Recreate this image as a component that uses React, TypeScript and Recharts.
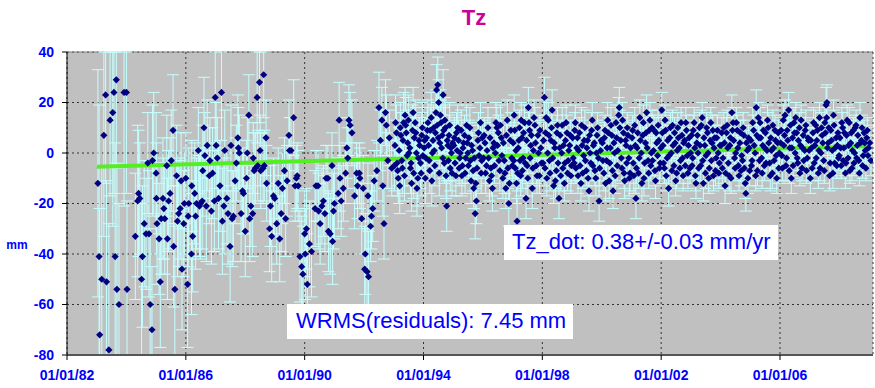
import React from 'react';
import { CartesianGrid, ComposedChart, ErrorBar, Line, ReferenceLine, Scatter, XAxis, YAxis } from 'recharts';

// [epoch (decimal year), Tz (mm), sigma (mm)]
type Obs = [number, number, number];

const obs1983: Obs[] = [[1983.04,-12,45],[1983.08,-41,60],[1983.10,-72,50],[1983.17,-50,45],[1983.24,7,40],[1983.30,23,35],[1983.33,-51,40],[1983.41,-78,50],[1983.45,13,30],[1983.54,16,45],[1983.58,24,40],[1983.62,-41,45],[1983.66,29,35],[1983.68,-54,50],[1983.75,-60,40],[1983.92,24,45]];
const obs1984: Obs[] = [[1984.00,24,40],[1984.02,-54,35],[1984.30,-33,25],[1984.38,-19,30],[1984.41,-16,25],[1984.45,-18,22],[1984.51,-50,30],[1984.54,-41,28],[1984.60,-28,25],[1984.66,-32,22],[1984.72,-4,20],[1984.76,-32,25],[1984.80,-60,30],[1984.86,-70,25],[1984.88,-3,22],[1984.92,0,24]];
const obs1985: Obs[] = [[1985.00,-8,24],[1985.01,-18,22],[1985.03,-28,24],[1985.10,-34,22],[1985.14,-51,26],[1985.17,-26,22],[1985.23,-18,24],[1985.26,-22,20],[1985.29,-26,22],[1985.36,-5,20],[1985.38,-34,24],[1985.42,-19,20],[1985.47,-16,22],[1985.51,-3,20],[1985.57,9,22],[1985.59,-37,24],[1985.63,-54,26],[1985.69,-9,20],[1985.72,-27,22],[1985.76,-24,21],[1985.81,-22,20],[1985.84,-11,19],[1985.87,-46,24],[1985.93,-28,21],[1985.95,-20,20]];
const obs1986: Obs[] = [[1986.00,-10,18],[1986.06,-52,25],[1986.08,-25,20],[1986.10,-20,22],[1986.19,-40,24],[1986.20,-13,18],[1986.23,-33,22],[1986.30,-16,20],[1986.33,-25,21],[1986.36,-20,18],[1986.42,1,17],[1986.46,-21,20],[1986.49,-20,22],[1986.55,-19,19],[1986.57,-7,18],[1986.61,10,20],[1986.64,-1,17],[1986.69,-21,22],[1986.72,3,18],[1986.79,-9,19],[1986.81,-3,17],[1986.86,-23,21],[1986.90,-8,18],[1986.96,-19,20],[1986.99,22,18]];
const obs1987: Obs[] = [[1987.02,3,17],[1987.06,-2,16],[1987.10,-18,20],[1987.15,-13,18],[1987.20,24,19],[1987.23,-27,21],[1987.28,-21,19],[1987.31,1,16],[1987.38,-18,18],[1987.42,-24,20],[1987.49,-37,22],[1987.52,3,16],[1987.56,-26,19],[1987.60,-25,18],[1987.66,-11,17],[1987.70,-4,15],[1987.75,6,17],[1987.77,2,16],[1987.80,0,15],[1987.86,-24,19],[1987.91,-15,17],[1987.94,-16,16]];
const obs1988: Obs[] = [[1988.00,-31,18],[1988.04,-10,15],[1988.07,0,14],[1988.12,15,16],[1988.15,-26,17],[1988.19,-21,16],[1988.25,-24,17],[1988.27,-2,14],[1988.30,-7,15],[1988.34,-6,14],[1988.40,22,18],[1988.42,-5,14],[1988.48,28,16],[1988.50,1,14],[1988.52,-7,15],[1988.60,-6,14],[1988.62,31,17],[1988.64,-5,14],[1988.70,6,15],[1988.72,-12,15],[1988.82,-30,17],[1988.85,-21,16],[1988.89,-33,18],[1988.95,-17,15],[1988.99,-18,15]];
const obs1989: Obs[] = [[1989.06,-28,16],[1989.11,-12,14],[1989.16,-34,17],[1989.21,-24,15],[1989.25,-14,14],[1989.32,-7,13],[1989.36,-26,15],[1989.41,-11,14],[1989.47,7,14],[1989.49,1,13],[1989.54,1,13],[1989.63,14,15],[1989.68,-13,14],[1989.72,-10,13],[1989.75,-9,13],[1989.78,-13,14],[1989.84,-41,18],[1989.90,-45,20],[1989.94,-48,19]];
const obs1990: Obs[] = [[1990.00,-32,17],[1990.02,-40,18],[1990.06,-30,16],[1990.09,-52,20],[1990.16,-36,17],[1990.23,-39,18],[1990.35,-22,15],[1990.38,-13,14],[1990.45,-13,14],[1990.47,-23,15],[1990.52,-28,16],[1990.58,-21,15],[1990.63,-19,14],[1990.68,-24,15],[1990.72,-10,13],[1990.78,-10,13],[1990.80,-31,16],[1990.86,-32,16],[1990.92,-5,13],[1990.94,-35,17],[1990.97,-23,15]];
const obs1991: Obs[] = [[1991.00,-20,14],[1991.13,-16,14],[1991.16,13,15],[1991.19,-10,13],[1991.23,-19,14],[1991.30,-14,13],[1991.38,-8,12],[1991.42,2,12],[1991.45,-2,12],[1991.49,13,14],[1991.53,11,13],[1991.59,8,13],[1991.68,-17,13],[1991.75,-8,12],[1991.78,-13,13],[1991.84,-8,12],[1991.86,-10,12],[1991.92,-26,14],[1991.97,-14,13]];
const obs1992: Obs[] = [[1992.02,-46,17],[1992.04,-40,16],[1992.10,-47,17],[1992.13,-17,13],[1992.15,-49,18],[1992.22,-29,14],[1992.25,-25,13],[1992.29,-22,13],[1992.34,-11,12],[1992.43,-7,12],[1992.50,18,14],[1992.55,5,12],[1992.60,13,13],[1992.63,-13,12],[1992.67,-28,14],[1992.72,16,13],[1992.75,11,12],[1992.80,-3,11],[1992.85,6,11],[1992.93,-6,11]];
const obs1993: Obs[] = [[1993.02,-5,10],[1993.06,12,11],[1993.11,-4,9],[1993.15,-10,10],[1993.20,-13,11],[1993.24,7,9],[1993.29,-6,10],[1993.33,12,12],[1993.38,15,11],[1993.42,8,9],[1993.47,4,10],[1993.51,0,9],[1993.56,-6,10],[1993.60,-12,11],[1993.65,16,10],[1993.69,6,9],[1993.74,8,10],[1993.78,-14,11],[1993.83,-2,9],[1993.87,3,10],[1993.92,-8,9],[1993.96,10,10],
  [1993.04,3,10],[1993.09,8,11],[1993.13,-7,10],[1993.18,1,9],[1993.22,10,10],[1993.27,-3,10],[1993.31,5,11],[1993.36,-9,10],[1993.40,11,11],[1993.45,-1,9],[1993.49,13,10],[1993.54,2,10],[1993.58,-4,9],[1993.63,9,10],[1993.67,-8,10],[1993.72,12,9],[1993.76,0,10],[1993.81,-10,11],[1993.85,5,9],[1993.90,-4,10],[1993.94,7,9],[1993.98,-1,10]];
const obs1994: Obs[] = [[1994.02,2,9],[1994.06,-10,10],[1994.10,6,8],[1994.15,12,9],[1994.19,-3,8],[1994.23,9,9],[1994.28,-11,10],[1994.32,5,8],[1994.36,1,8],[1994.40,8,9],[1994.44,25,10],[1994.48,27,11],[1994.51,20,9],[1994.55,4,8],[1994.59,12,9],[1994.63,7,8],[1994.66,23,10],[1994.70,-4,8],[1994.74,10,9],[1994.78,-21,10],[1994.82,3,8],[1994.86,7,8],[1994.90,-6,9],[1994.94,0,8],[1994.98,4,8],
  [1994.04,5,9],[1994.08,-2,8],[1994.13,9,9],[1994.17,3,8],[1994.21,-7,9],[1994.26,14,10],[1994.30,0,8],[1994.34,10,9],[1994.38,-5,8],[1994.42,16,9],[1994.46,11,9],[1994.50,6,8],[1994.53,-8,9],[1994.57,15,10],[1994.61,2,8],[1994.65,-2,8],[1994.68,9,9],[1994.72,13,9],[1994.76,-9,9],[1994.80,5,8],[1994.84,-3,8],[1994.88,11,9],[1994.92,2,8],[1994.96,-8,9]];
const obs1995: Obs[] = [[1995.02,3,8],[1995.06,-4,7],[1995.11,8,8],[1995.15,10,9],[1995.20,-6,7],[1995.24,0,8],[1995.29,-9,8],[1995.33,2,7],[1995.38,7,8],[1995.42,-2,7],[1995.47,4,8],[1995.51,-5,7],[1995.56,10,8],[1995.60,-11,9],[1995.65,1,7],[1995.69,-14,8],[1995.74,-24,10],[1995.78,-19,9],[1995.83,5,7],[1995.87,-1,8],[1995.92,12,8],[1995.96,-3,7],
  [1995.04,6,8],[1995.09,-9,8],[1995.13,1,7],[1995.18,5,8],[1995.22,-2,7],[1995.27,9,8],[1995.31,-5,7],[1995.35,4,7],[1995.40,-8,8],[1995.45,11,8],[1995.49,0,7],[1995.53,6,7],[1995.58,-3,7],[1995.62,3,8],[1995.67,-7,8],[1995.71,-2,7],[1995.76,-12,8],[1995.80,-6,7],[1995.85,8,8],[1995.90,2,7],[1995.94,-8,8],[1995.98,6,7]];
const obs1996: Obs[] = [[1996.02,-2,7],[1996.07,4,8],[1996.12,-5,7],[1996.17,10,8],[1996.22,-11,8],[1996.27,-6,7],[1996.32,-14,9],[1996.37,4,7],[1996.42,0,7],[1996.47,10,8],[1996.52,8,7],[1996.57,-7,8],[1996.62,6,7],[1996.67,-10,8],[1996.72,-3,7],[1996.77,-14,8],[1996.82,13,8],[1996.87,-20,9],[1996.92,5,7],[1996.97,-2,7],
  [1996.04,7,7],[1996.09,-8,8],[1996.14,1,7],[1996.19,-2,7],[1996.24,6,8],[1996.29,-9,8],[1996.34,2,7],[1996.39,-5,7],[1996.44,12,8],[1996.49,3,7],[1996.54,-3,7],[1996.59,11,8],[1996.64,-1,7],[1996.69,4,7],[1996.74,-8,8],[1996.79,7,7],[1996.84,-6,8],[1996.89,-12,8],[1996.94,9,7],[1996.99,-5,7]];
const obs1997: Obs[] = [[1997.02,4,7],[1997.05,15,8],[1997.09,-6,7],[1997.13,-12,8],[1997.15,-27,9],[1997.19,2,7],[1997.23,10,7],[1997.27,-9,8],[1997.31,6,7],[1997.35,-2,6],[1997.40,12,7],[1997.45,-18,8],[1997.49,-5,7],[1997.53,18,8],[1997.57,9,7],[1997.61,3,6],[1997.66,-14,8],[1997.70,1,6],[1997.75,11,7],[1997.80,-5,7],[1997.85,7,6],[1997.90,-9,7],[1997.95,2,6],
  [1997.04,-3,7],[1997.07,9,7],[1997.11,1,7],[1997.17,-8,7],[1997.21,5,7],[1997.25,-3,7],[1997.29,13,7],[1997.33,-7,7],[1997.37,8,6],[1997.42,-4,7],[1997.47,5,7],[1997.51,-10,7],[1997.55,12,7],[1997.59,-2,6],[1997.63,7,6],[1997.68,-6,7],[1997.72,14,7],[1997.77,4,6],[1997.82,-9,7],[1997.87,0,6],[1997.92,9,6],[1997.97,-4,6]];
const obs1998: Obs[] = [[1998.02,-4,7],[1998.07,22,8],[1998.11,8,7],[1998.15,-10,7],[1998.20,13,7],[1998.24,-3,6],[1998.29,5,7],[1998.33,17,8],[1998.38,-13,7],[1998.42,2,6],[1998.47,-7,7],[1998.51,11,7],[1998.56,-18,8],[1998.60,7,6],[1998.65,0,6],[1998.69,-6,7],[1998.74,-12,7],[1998.78,5,6],[1998.83,8,7],[1998.87,-3,6],[1998.92,3,6],[1998.96,-9,7],
  [1998.04,5,7],[1998.09,-6,7],[1998.13,14,7],[1998.18,0,7],[1998.22,7,6],[1998.26,-8,7],[1998.31,10,7],[1998.35,-2,7],[1998.40,4,6],[1998.44,-11,7],[1998.49,8,7],[1998.53,-4,7],[1998.58,2,7],[1998.62,-9,6],[1998.67,11,7],[1998.71,3,6],[1998.76,-4,6],[1998.80,12,7],[1998.85,-8,7],[1998.89,1,6],[1998.94,7,6],[1998.98,-5,7]];
const obs1999: Obs[] = [[1999.02,6,6],[1999.07,-4,7],[1999.11,12,7],[1999.16,2,6],[1999.20,-9,7],[1999.25,8,6],[1999.30,-12,7],[1999.34,3,6],[1999.39,-1,6],[1999.43,10,7],[1999.48,-7,6],[1999.52,5,6],[1999.57,-15,8],[1999.61,0,6],[1999.66,9,7],[1999.70,-5,6],[1999.75,4,6],[1999.80,-10,7],[1999.84,7,6],[1999.89,-2,6],[1999.91,-19,8],[1999.96,1,6],
  [1999.04,-2,6],[1999.09,9,7],[1999.13,-6,6],[1999.18,6,7],[1999.22,1,6],[1999.27,-5,6],[1999.32,11,7],[1999.36,-8,6],[1999.41,5,6],[1999.45,-3,6],[1999.50,2,6],[1999.54,-10,7],[1999.59,7,6],[1999.63,-4,6],[1999.68,13,7],[1999.72,3,6],[1999.77,-7,6],[1999.82,0,6],[1999.86,10,6],[1999.93,-6,7],[1999.98,5,6]];
const obs2000: Obs[] = [[2000.02,4,6],[2000.07,-8,7],[2000.11,9,6],[2000.16,-3,6],[2000.20,13,7],[2000.25,-11,7],[2000.29,2,6],[2000.34,7,6],[2000.38,-15,7],[2000.43,0,6],[2000.48,12,7],[2000.52,-5,6],[2000.57,15,7],[2000.59,18,8],[2000.64,5,6],[2000.68,-6,6],[2000.73,8,6],[2000.77,-11,7],[2000.82,3,6],[2000.86,10,6],[2000.91,-2,6],[2000.95,-8,7],
  [2000.04,-3,6],[2000.09,6,6],[2000.13,-12,7],[2000.18,2,6],[2000.22,8,6],[2000.27,-4,6],[2000.31,11,7],[2000.36,-7,6],[2000.41,4,6],[2000.45,-9,7],[2000.50,6,6],[2000.54,1,6],[2000.61,10,7],[2000.66,-2,6],[2000.70,13,7],[2000.75,-8,6],[2000.80,5,6],[2000.84,-4,6],[2000.88,7,6],[2000.93,-10,7],[2000.97,2,6]];
const obs2001: Obs[] = [[2001.02,6,6],[2001.06,-4,6],[2001.11,11,7],[2001.15,-18,8],[2001.19,2,6],[2001.24,-8,6],[2001.28,14,7],[2001.33,0,6],[2001.38,7,6],[2001.42,-10,7],[2001.47,4,6],[2001.51,16,7],[2001.56,-3,6],[2001.60,9,6],[2001.65,-5,6],[2001.69,10,7],[2001.74,1,6],[2001.79,-7,6],[2001.83,8,6],[2001.88,-1,6],[2001.92,5,6],[2001.97,-4,6],
  [2001.04,9,6],[2001.08,-9,7],[2001.13,3,6],[2001.17,-6,6],[2001.21,8,6],[2001.26,-2,6],[2001.30,5,6],[2001.35,-12,7],[2001.40,12,7],[2001.44,-4,6],[2001.49,8,6],[2001.53,2,6],[2001.58,-8,6],[2001.62,13,7],[2001.67,0,6],[2001.71,-3,6],[2001.76,9,6],[2001.81,-11,7],[2001.85,4,6],[2001.90,11,6],[2001.94,-6,6],[2001.99,2,6]];
const obs2002: Obs[] = [[2002.02,17,7],[2002.06,3,6],[2002.11,-6,6],[2002.15,9,6],[2002.20,-2,6],[2002.25,-14,7],[2002.29,6,6],[2002.34,0,5],[2002.38,11,6],[2002.43,-5,6],[2002.47,4,5],[2002.52,-8,6],[2002.56,10,6],[2002.61,2,5],[2002.65,-3,6],[2002.70,7,6],[2002.74,-9,6],[2002.79,5,5],[2002.83,12,6],[2002.88,-1,5],[2002.92,3,6],[2002.97,-6,6],
  [2002.04,8,6],[2002.08,-4,6],[2002.13,13,6],[2002.17,-9,6],[2002.22,5,6],[2002.27,-1,6],[2002.31,10,6],[2002.36,-7,6],[2002.40,3,5],[2002.45,8,6],[2002.49,-11,6],[2002.54,1,5],[2002.58,6,6],[2002.63,-6,6],[2002.67,12,6],[2002.72,-2,5],[2002.76,4,6],[2002.81,-5,5],[2002.85,9,6],[2002.90,-8,6],[2002.94,6,5],[2002.99,0,5]];
const obs2003: Obs[] = [[2003.02,7,6],[2003.06,-2,5],[2003.11,12,6],[2003.15,-9,6],[2003.20,4,5],[2003.24,0,5],[2003.29,10,6],[2003.33,-5,6],[2003.38,14,6],[2003.42,-12,7],[2003.47,3,5],[2003.51,-1,5],[2003.56,8,6],[2003.60,-10,6],[2003.65,5,5],[2003.69,-3,5],[2003.74,9,6],[2003.78,2,5],[2003.83,-7,6],[2003.87,6,5],[2003.92,0,5],[2003.96,-4,6],
  [2003.04,-5,5],[2003.08,9,6],[2003.13,2,5],[2003.17,-12,6],[2003.22,7,5],[2003.26,-6,5],[2003.31,3,5],[2003.35,11,6],[2003.40,-3,5],[2003.44,6,5],[2003.49,-8,6],[2003.53,10,6],[2003.58,0,5],[2003.62,-6,5],[2003.67,12,6],[2003.71,4,5],[2003.76,-9,6],[2003.80,6,5],[2003.85,-2,5],[2003.89,9,6],[2003.94,-8,6],[2003.98,3,5]];
const obs2004: Obs[] = [[2004.02,3,5],[2004.06,-6,6],[2004.11,10,6],[2004.15,-13,7],[2004.20,8,6],[2004.24,2,5],[2004.29,-9,6],[2004.33,6,5],[2004.38,16,7],[2004.42,12,6],[2004.47,-2,5],[2004.51,0,5],[2004.56,9,6],[2004.60,-5,5],[2004.65,4,5],[2004.69,-7,6],[2004.74,-3,5],[2004.78,7,6],[2004.83,-12,6],[2004.85,-16,7],[2004.90,1,5],[2004.94,6,5],[2004.98,-7,6],
  [2004.04,8,6],[2004.08,-2,5],[2004.13,4,5],[2004.17,-8,6],[2004.22,11,6],[2004.26,-4,5],[2004.31,3,5],[2004.35,-10,6],[2004.40,9,6],[2004.44,5,5],[2004.49,-6,5],[2004.53,12,6],[2004.58,2,5],[2004.62,-9,6],[2004.67,8,5],[2004.71,-1,5],[2004.76,10,6],[2004.80,-6,5],[2004.87,4,5],[2004.92,-10,6],[2004.96,2,5]];
const obs2005: Obs[] = [[2005.02,5,5],[2005.06,-3,5],[2005.11,9,6],[2005.16,0,5],[2005.20,18,7],[2005.24,-7,6],[2005.29,6,5],[2005.33,12,6],[2005.38,-2,5],[2005.42,3,5],[2005.47,-5,6],[2005.51,8,5],[2005.56,1,5],[2005.60,10,6],[2005.65,-4,5],[2005.69,6,5],[2005.74,-8,6],[2005.78,2,5],[2005.83,9,6],[2005.87,-1,5],[2005.92,4,5],[2005.96,-6,6],
  [2005.04,-5,5],[2005.08,12,6],[2005.13,3,5],[2005.18,-9,6],[2005.22,7,5],[2005.27,14,6],[2005.31,-3,5],[2005.35,6,5],[2005.40,-8,6],[2005.44,9,5],[2005.49,2,5],[2005.53,-4,5],[2005.58,13,6],[2005.62,4,5],[2005.67,-9,6],[2005.71,1,5],[2005.76,11,6],[2005.80,-3,5],[2005.85,5,5],[2005.89,-10,6],[2005.94,8,5],[2005.98,0,5]];
const obs2006: Obs[] = [[2006.02,4,5],[2006.06,-1,5],[2006.11,13,6],[2006.15,7,5],[2006.20,-5,6],[2006.24,9,5],[2006.29,17,7],[2006.33,2,5],[2006.38,-10,6],[2006.42,6,5],[2006.47,12,6],[2006.51,0,5],[2006.56,8,5],[2006.60,-4,5],[2006.65,10,6],[2006.69,3,5],[2006.74,-6,5],[2006.78,7,5],[2006.83,1,5],[2006.87,11,6],[2006.92,-2,5],[2006.96,5,5],
  [2006.04,9,5],[2006.08,-6,5],[2006.13,3,5],[2006.17,15,6],[2006.22,-2,5],[2006.26,5,5],[2006.31,-7,5],[2006.35,11,6],[2006.40,2,5],[2006.44,-5,5],[2006.49,8,5],[2006.53,14,6],[2006.58,-2,5],[2006.62,5,5],[2006.67,-8,5],[2006.71,13,6],[2006.76,2,5],[2006.80,-3,5],[2006.85,9,5],[2006.89,-7,5],[2006.94,6,5],[2006.98,1,5]];
const obs2007: Obs[] = [[2007.02,-10,6],[2007.06,2,5],[2007.11,8,5],[2007.15,-4,5],[2007.20,11,6],[2007.24,5,5],[2007.29,-8,6],[2007.33,14,6],[2007.38,0,5],[2007.42,7,5],[2007.47,-3,5],[2007.51,12,6],[2007.55,19,7],[2007.58,20,7],[2007.62,4,5],[2007.67,-9,6],[2007.71,9,5],[2007.76,1,5],[2007.80,15,6],[2007.84,-4,5],[2007.89,6,5],[2007.93,3,5],[2007.97,-2,5],
  [2007.04,5,5],[2007.08,-6,5],[2007.13,12,6],[2007.17,3,5],[2007.22,-2,5],[2007.26,9,5],[2007.31,1,5],[2007.35,-6,5],[2007.40,10,6],[2007.44,4,5],[2007.49,-7,5],[2007.53,8,5],[2007.57,14,6],[2007.60,2,5],[2007.64,10,5],[2007.69,-4,5],[2007.73,5,5],[2007.78,-8,6],[2007.82,11,6],[2007.86,2,5],[2007.91,-5,5],[2007.95,8,5],[2007.99,-1,5]];
const obs2008: Obs[] = [[2008.02,6,5],[2008.06,-5,5],[2008.11,10,6],[2008.15,2,5],[2008.20,-8,6],[2008.24,7,5],[2008.29,-2,5],[2008.33,12,6],[2008.38,4,5],[2008.42,-6,5],[2008.47,9,5],[2008.51,0,5],[2008.56,11,6],[2008.60,3,5],[2008.65,-3,5],[2008.69,14,6],[2008.74,5,5],[2008.78,-5,5],[2008.83,8,5],[2008.87,1,5],[2008.92,6,5],[2008.96,-1,5],[2009.02,4,6],[2009.06,-3,6],
  [2008.04,2,5],[2008.08,12,6],[2008.13,-3,5],[2008.17,8,5],[2008.22,-4,5],[2008.26,13,6],[2008.31,3,5],[2008.35,-7,5],[2008.40,8,5],[2008.44,1,5],[2008.49,-4,5],[2008.53,10,5],[2008.58,-2,5],[2008.62,7,5],[2008.67,-8,5],[2008.71,4,5],[2008.76,10,5],[2008.80,-1,5],[2008.85,4,5],[2008.89,-6,5],[2008.94,9,5],[2008.98,2,5]];

// linear fit end points (Tz_dot = 0.38 mm/yr)
const trendEpochs = [1983.0, 2008.95];
const trendValues = [-5.4, 2.7];

const xTicks = [1982, 1986, 1990, 1994, 1998, 2002, 2006];
const yTicks = [-80, -60, -40, -20, 0, 20, 40];
const Y_MIN = -80;
const Y_MAX = 40;

const title = 'Tz';
const rateLabel = 'Tz_dot: 0.38+/-0.03 mm/yr';
const wrmsLabel = 'WRMS(residuals): 7.45 mm';

const allObs = [
  obs1983, obs1984, obs1985, obs1986, obs1987, obs1988, obs1989, obs1990, obs1991, obs1992, obs1993,
  obs1994, obs1995, obs1996, obs1997, obs1998, obs1999, obs2000, obs2001, obs2002, obs2003, obs2004,
  obs2005, obs2006, obs2007, obs2008,
].flat();

// error bars are cut at the plot frame, like the original
const points = allObs.map(([t, v, e]) => ({
  t,
  v,
  e: [Math.min(e, v - Y_MIN), Math.min(e, Y_MAX - v)],
}));
const trend = trendEpochs.map((t, i) => ({ t, fit: trendValues[i] }));

const BLUE = '#0000ff';
const FONT = '"Liberation Sans", Arial, sans-serif';

const Diamond = (props: any) => {
  const { cx, cy } = props;
  if (cx == null || cy == null) return null;
  const r = 3.6;
  return <path d={`M${cx},${cy - r}L${cx + r},${cy}L${cx},${cy + r}L${cx - r},${cy}Z`} fill="#000080" />;
};

const fmtDate = (v: number) => '01/01/' + String(v % 100).padStart(2, '0');

export default function App() {
  return (
    <div style={{ position: 'absolute', left: 0, top: 0, width: 875, height: 388, background: '#fff', fontFamily: FONT }}>
      <ComposedChart width={875} height={388} margin={{ top: 52, right: 2, bottom: 0, left: 7 }}>
        <CartesianGrid fill="#c0c0c0" stroke="#333" strokeDasharray="2 3" />
        <XAxis
          type="number"
          dataKey="t"
          domain={[1982, 2009.13]}
          ticks={xTicks}
          interval={0}
          allowDataOverflow
          tickFormatter={fmtDate}
          height={33}
          tickSize={5}
          tickMargin={10}
          axisLine={{ stroke: '#555', strokeWidth: 2 }}
          tickLine={{ stroke: '#000' }}
          tick={{ fill: BLUE, fontSize: 14, fontWeight: 'bold', fontFamily: FONT }}
        />
        <YAxis
          type="number"
          domain={[Y_MIN, Y_MAX]}
          ticks={yTicks}
          interval={0}
          allowDataOverflow
          width={60}
          tickSize={5}
          tickMargin={8}
          axisLine={{ stroke: '#000' }}
          tickLine={{ stroke: '#000' }}
          tick={{ fill: BLUE, fontSize: 14, fontWeight: 'bold', fontFamily: FONT }}
        />
        <ReferenceLine y={Y_MAX} stroke="#808080" />
        <Scatter data={points} dataKey="v" shape={<Diamond />} isAnimationActive={false}>
          <ErrorBar dataKey="e" direction="y" width={6} stroke="#c4ffff" strokeWidth={1} />
        </Scatter>
        <Line data={trend} dataKey="fit" stroke="#55ee22" strokeWidth={4} dot={false} isAnimationActive={false} />
      </ComposedChart>

      <svg width={875} height={388} style={{ position: 'absolute', left: 0, top: 0, pointerEvents: 'none' }}>
        <text x={474} y={25} textAnchor="middle" fontSize={22} fontWeight="bold" fill="#cc0099" fontFamily={FONT}>{title}</text>
        <text x={17} y={249} textAnchor="middle" fontSize={12} fontWeight="bold" fill={BLUE} fontFamily={FONT}>mm</text>
        <rect x={504} y={225} width={274} height={35} fill="#fff" />
        <text x={512} y={249} fontSize={22} fill={BLUE} fontFamily={FONT}>{rateLabel}</text>
        <rect x={287} y={304} width={286} height={35} fill="#fff" />
        <text x={296} y={328} fontSize={22} fill={BLUE} fontFamily={FONT}>{wrmsLabel}</text>
      </svg>
    </div>
  );
}
